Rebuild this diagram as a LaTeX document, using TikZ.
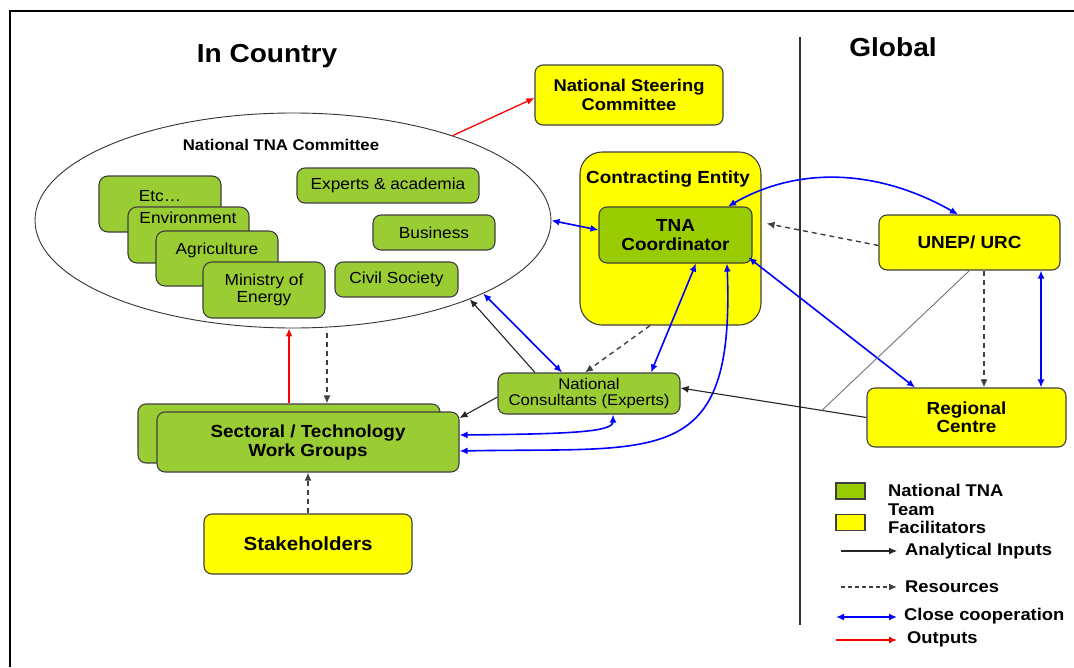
\documentclass[tikz,border=0pt]{standalone}
\usepackage{fontspec}
\setmainfont{Liberation Sans}[FakeStretch=1.08]
\usetikzlibrary{arrows.meta,shapes.geometric,calc}
\definecolor{gA}{RGB}{154,204,51}
\definecolor{gB}{RGB}{153,204,0}
\definecolor{yl}{RGB}{255,255,0}
\definecolor{bd}{RGB}{64,64,64}
\definecolor{bl}{RGB}{0,0,255}
\definecolor{rd}{RGB}{255,0,0}
\newcommand\fsz[2]{\fontsize{#1}{#2}\selectfont}
\begin{document}
\begin{tikzpicture}[x=1pt,y=-1pt,
  box/.style={draw=bd,line width=1.1pt,rounded corners=8pt,inner sep=0pt,align=center},
  gbox/.style={box,fill=gA},
  ybox/.style={box,fill=yl},
  rtxt/.style={font=\fsz{16}{17}},
  btxt/.style={font=\bfseries\fsz{17.5}{19}},
  ltxt/.style={font=\bfseries\fsz{17}{19},anchor=west,inner sep=0pt,align=left},
  tip/.tip={Latex[length=8pt,width=7pt]},
  blu/.style={draw=bl,line width=1.6pt,tip-tip},
  blk/.style={draw=black!85,line width=1.1pt,-tip},
  dsh/.style={draw=black!75,line width=1.4pt,dash pattern=on 5pt off 4pt,-tip},
  outp/.style={draw=rd,line width=1.3pt,-tip}]
\fill[white] (0,0) rectangle (1074,667);
\useasboundingbox (0,0) rectangle (1074,667);
% frame and divider
\draw[line width=1.8pt] (10,667) -- (10,11) -- (1074,11);
\draw[line width=1.8pt,black!80] (800,37) -- (800,625);
% titles
\node[font=\bfseries\fsz{26}{28}] (tin) at (267,56) {In Country};
\node[font=\bfseries\fsz{26}{28}] (tgl) at (893,47) {Global};
% committee
\node[draw=black!80,line width=0.9pt,fill=white,ellipse,minimum width=516pt,minimum height=215pt,inner sep=0pt] (comm) at (293,220.5) {};
\node[font=\bfseries\fsz{15.5}{17}] (commt) at (281,145) {National TNA Committee};
\node[gbox,rounded corners=9pt,minimum width=122pt,minimum height=56pt] (etc) at (160,204) {};
\node[rtxt] (etct) at (160,196) {Etc…};
\node[gbox,rounded corners=9pt,minimum width=121pt,minimum height=56pt] (env) at (188.5,235) {};
\node[rtxt] (envt) at (188,218) {Environment};
\node[gbox,rounded corners=9pt,minimum width=122pt,minimum height=55pt] (agr) at (217,258.5) {};
\node[rtxt] (agrt) at (217,250) {Agriculture};
\node[gbox,rounded corners=9pt,minimum width=122pt,minimum height=56pt,rtxt] (min) at (264,290) {Ministry of\\Energy};
\node[gbox,minimum width=182pt,minimum height=35pt,rtxt] (exp) at (388,185.5) {Experts \& academia};
\node[gbox,minimum width=122pt,minimum height=35pt,rtxt] (bus) at (434,232.5) {Business};
\node[gbox,minimum width=123pt,minimum height=35pt,rtxt] (civ) at (396.5,279.5) {Civil Society};
% steering committee
\node[ybox,btxt,font=\bfseries\fsz{17}{19},minimum width=188pt,minimum height=60pt] (nsc) at (629,95) {National Steering\\Committee};
% contracting entity
\node[ybox,rounded corners=22pt,minimum width=181pt,minimum height=173pt] (ce) at (670.5,238.5) {};
\node[btxt] (cet) at (668,179) {Contracting Entity};
\node[box,fill=gB,btxt,minimum width=153pt,minimum height=56pt] (tna) at (675.5,235) {TNA\\Coordinator};
% global side
\node[ybox,btxt,minimum width=181pt,minimum height=55pt] (unep) at (969.5,242.5) {UNEP/ URC};
\node[ybox,btxt,font=\bfseries\fsz{17.5}{18},minimum width=199pt,minimum height=59pt] (reg) at (966.5,417.5) {Regional\\Centre};
% consultants, work groups, stakeholders
\node[gbox,font=\fsz{15.5}{15.5},minimum width=182pt,minimum height=41pt] (cons) at (589,393.5) {National\\Consultants (Experts)};
\node[gbox,minimum width=302pt,minimum height=59pt] (secb) at (289,433.5) {};
\node[gbox,btxt,minimum width=302pt,minimum height=60pt] (sec) at (308,442) {Sectoral / Technology\\Work Groups};
\node[ybox,font=\bfseries\fsz{19}{20},minimum width=208pt,minimum height=60pt] (stk) at (308,544) {Stakeholders};
% connectors
\draw[outp] (comm.28) -- ([yshift=-3pt]nsc.west);
\draw[outp] (secb.north) -- (secb.north |- comm.south);
\draw[dsh] ([xshift=34pt,yshift=-5pt]comm.south) -- ([xshift=38pt]secb.north);
\draw[dsh] (stk.north) -- (sec.south);
\draw[blu] (comm.east) -- ([yshift=5pt]tna.west);
\draw[blu] ([xshift=52.5pt]tna.north) .. controls (800,165) and (880,170) .. ([xshift=-11.5pt]unep.north);
\draw[dsh] ([yshift=-3pt]unep.west) -- ([xshift=5pt,yshift=15pt]ce.east);
\draw[blu] ([xshift=-4pt,yshift=6pt]tna.south east) -- ([xshift=-51.5pt]reg.north);
\draw[blu] ([xshift=20.5pt]tna.south) -- ([xshift=62pt]cons.north);
\draw[blu] ([xshift=51.5pt]tna.south) .. controls (735,470) and (660,447) .. ([yshift=-9pt]sec.east);
\draw[dsh] ([xshift=-20.5pt]ce.south) -- ([xshift=-4pt]cons.north);
\draw[blu] (comm.-21.8) -- ([xshift=-27pt]cons.north);
\draw[blk] ([xshift=-54pt]cons.north) -- (comm.-24);
\draw[blk] ([yshift=-3.5pt]cons.west) -- ([yshift=24pt]sec.east);
\draw[blu] ([xshift=24pt]cons.south) .. controls (613,432) and (570,434) .. ([yshift=7pt]sec.east);
\draw[blk] (reg.west) -- ([yshift=5.5pt]cons.east);
\coordinate (gx) at ($(reg.west)!0.24!([yshift=5.5pt]cons.east)$);
\draw[black!55,line width=0.9pt] (unep.south) -- (gx);
\draw[dsh] ([xshift=14.5pt]unep.south) -- ([xshift=14.5pt]unep.south |- reg.north);
\draw[blu] ([xshift=71.5pt]unep.south) -- ([xshift=71.5pt]unep.south |- reg.north);
% legend
\node[draw=bd,line width=1.1pt,fill=gB,minimum width=29pt,minimum height=16pt,inner sep=0pt] (lg1) at (850.5,491) {};
\node[draw=bd,line width=1.1pt,fill=yl,minimum width=29pt,minimum height=16pt,inner sep=0pt] (lg2) at (850.5,522.5) {};
\node[ltxt] (lt1) at (888,499.5) {National TNA\\Team};
\node[ltxt] (lt2) at (888,527) {Facilitators};
\node[ltxt] (lt3) at (905,551) {Analytical Inputs};
\node[ltxt] (lt4) at (905,587) {Resources};
\node[ltxt] (lt5) at (904,616) {Close cooperation};
\node[ltxt] (lt6) at (907,639) {Outputs};
\coordinate (la3) at (841,551);
\coordinate (la4) at (841,587);
\coordinate (la5) at (836,617);
\coordinate (la6) at (836,640);
\draw[blk] (la3) -- ([xshift=-8pt]lt3.west);
\draw[dsh,dash pattern=on 4pt off 3pt] (la4) -- ([xshift=-8pt]lt4.west);
\draw[blu] (la5) -- ([xshift=-7pt,yshift=-1pt]lt5.west);
\draw[outp] (la6) -- ([xshift=-10pt,yshift=-1pt]lt6.west);
\end{tikzpicture}
\end{document}
